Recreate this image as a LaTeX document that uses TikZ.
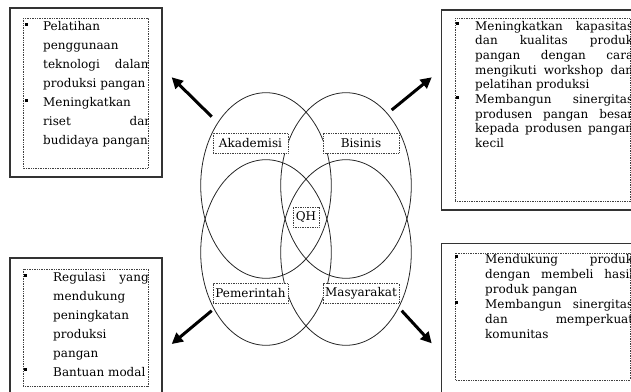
\documentclass[tikz,border=0pt]{standalone}
\usepackage{fontspec}
\setmainfont{DejaVu Serif}
\usetikzlibrary{shapes.geometric,arrows.meta}
\newcommand\mybul[1]{\leavevmode\llap{\rule[5pt]{3pt}{3pt}\hspace{#1}}}
\newcommand\myjust{\tolerance=10000 \hyphenpenalty=10000 \exhyphenpenalty=10000 \lefthyphenmin=62 \righthyphenmin=62 \relax}
\tikzset{
  outerbox/.style={draw=black!80, line width=1.1pt},
  innerbox/.style={draw=black!75, densely dotted, line width=0.7pt},
  venn/.style={ellipse, draw=black!85, line width=0.8pt, minimum width=130.6pt, minimum height=185.6pt, inner sep=0pt},
  lbl/.style={draw=black!75, densely dotted, line width=0.7pt, fill=white, inner sep=0pt, minimum height=20pt, text=black, font=\fontsize{12}{14}\selectfont},
  bigarrow/.style={line width=3pt, -{Triangle[length=11pt,width=11pt]}},
  itemtext/.style n args={2}{anchor=base west, inner sep=0pt, align=justify, text width=#1, text=black,
     font=\fontsize{12}{#2}\selectfont}
}
\begin{document}
\begin{tikzpicture}[x=1pt,y=-1pt]
\useasboundingbox (0,0) rectangle (631,391);
\clip (0,0) rectangle (631,391);

% Venn ellipses
\node[venn] (ak) at (266,185.5) {};
\node[venn] (bi) at (346,185.5) {};
\node[venn] (pe) at (266,252.5) {};
\node[venn] (ma) at (346,252.5) {};

% labels
\node[lbl, minimum width=75pt] (lak) at (250.5,143) {Akademisi};
\node[lbl, minimum width=76pt] (lbi) at (361,143) {Bisinis};
\node[lbl, minimum width=26pt] (lqh) at (306,217) {QH};
\node[lbl, minimum width=75pt] (lpe) at (250.5,293.5) {Pemerintah};
\node[lbl, minimum width=76pt] (lma) at (361,293.5) {Masyarakat};

% arrows
\coordinate (a1s) at (211.7,116.7); \coordinate (a1e) at (171.7,77.3);
\coordinate (a2s) at (391.7,110);   \coordinate (a2e) at (431.7,77.3);
\coordinate (a3s) at (211.7,310.7); \coordinate (a3e) at (171.7,344);
\coordinate (a4s) at (401.7,310.7); \coordinate (a4e) at (431.7,343.3);
\draw[bigarrow] (a1s) -- (a1e);
\draw[bigarrow] (a2s) -- (a2e);
\draw[bigarrow] (a3s) -- (a3e);
\draw[bigarrow] (a4s) -- (a4e);

% top-left box
\draw[outerbox] (10,8) rectangle (162,177);
\draw[innerbox] (23,18) rectangle (148,168);
\begin{scope}
\clip (23,18) rectangle (148,168);
\node[itemtext={109pt}{19pt}] (tltext) at (43,30.7) {\myjust\mybul{15.7pt}Pelatihan\linebreak penggunaan\linebreak teknologi dalam\linebreak produksi pangan\par
\mybul{15.7pt}Meningkatkan\linebreak riset dan\linebreak budidaya pangan};
\end{scope}

% top-right box
\draw[outerbox] (441.7,10) rectangle (645,210);
\draw[innerbox] (455,18.3) rectangle (630,201.7);
\begin{scope}
\clip (455,18.3) rectangle (630,201.7);
\node[itemtext={158pt}{14.7pt}] (trtext) at (475,30) {\myjust\mybul{16.5pt}Meningkatkan kapasitas\linebreak dan kualitas produk\linebreak pangan dengan cara\linebreak mengikuti workshop dan\linebreak pelatihan produksi\par
\mybul{16.5pt}Membangun sinergitas\linebreak produsen pangan besar\linebreak kepada produsen pangan\linebreak kecil};
\end{scope}

% bottom-left box
\draw[outerbox] (10,258) rectangle (162,400);
\draw[innerbox] (23,269) rectangle (148,386);
\begin{scope}
\clip (23,269) rectangle (148,386);
\node[itemtext={95.5pt}{18.9pt}] (bltext) at (53,281.7) {\myjust\mybul{26pt}Regulasi yang\linebreak mendukung\linebreak peningkatan\linebreak produksi\linebreak pangan\par
\mybul{26pt}Bantuan modal};
\end{scope}

% bottom-right box
\draw[outerbox] (441.7,243.3) rectangle (645,400);
\draw[innerbox] (455,253.3) rectangle (630,380);
\begin{scope}
\clip (455,253.3) rectangle (630,380);
\node[itemtext={148pt}{15.1pt}] (brtext) at (485,263.3) {\myjust\mybul{27pt}Mendukung produk\linebreak dengan membeli hasil\linebreak produk pangan\par
\mybul{27pt}Membangun sinergitas\linebreak dan memperkuat\linebreak komunitas};
\end{scope}
\end{tikzpicture}
\end{document}
